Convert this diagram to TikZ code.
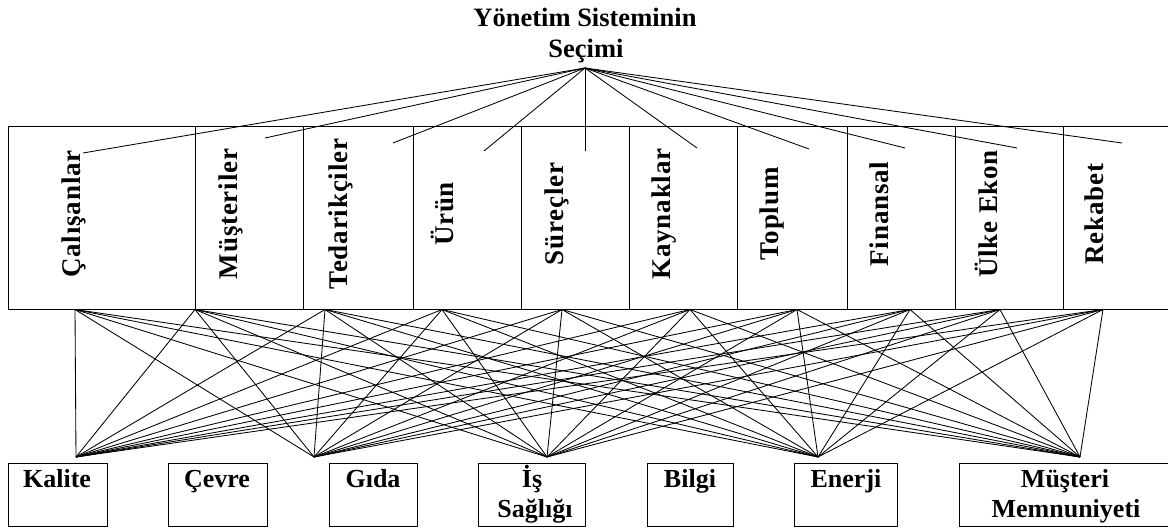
\documentclass[tikz,border=0pt]{standalone}
\usepackage{fontspec}
\setmainfont{Liberation Serif}
\newfontfamily\spacedserif[LetterSpace=3]{Liberation Serif}
\begin{document}
\begin{tikzpicture}[x=1pt,y=-1pt,
  colbox/.style={draw, line width=1.3pt, anchor=north west, minimum height=183pt, inner sep=0pt},
  botbox/.style={draw, line width=1.3pt, anchor=north west, minimum height=63pt, inner sep=0pt},
  vlabel/.style={rotate=90, anchor=base, inner sep=0pt, font=\spacedserif\fontsize{27}{30}\selectfont\bfseries},
  blabel/.style={anchor=base, inner sep=0pt, font=\fontsize{26}{30}\selectfont\bfseries},
  tlabel/.style={anchor=base, inner sep=0pt, font=\fontsize{26.5}{30}\selectfont\bfseries},
  conn/.style={line width=0.85pt}]
\useasboundingbox (0,0) rectangle (1168,529);
\clip (0,0) rectangle (1168,529);
% title
\node[tlabel] (title1) at (585,27) {Yönetim Sisteminin};
\node[tlabel] (title2) at (586,58) {Seçimi};
\coordinate (apex) at (585,68);
% top columns
\foreach \n/\l/\r/\bx/\txt in {c1/8/195/80/Çalışanlar, c2/195/303/237/Müşteriler, c3/303/413/347/Tedarikçiler, c4/413/521/453/Ürün, c5/521/629/563/Süreçler, c6/629/737/670/Kaynaklar, c7/737/847/778/Toplum, c8/847/955/888/Finansal, c9/955/1063/997/Ülke Ekon, c10/1063/1175/1103/Rekabet}{
  \node[colbox, minimum width={(\r-\l)*1pt}] (\n) at (\l,126) {};
  \node[vlabel] (\n t) at (\bx,214) {\txt};
}
% apex line end points
\foreach \n/\x/\y in {e1/83/153, e2/265/138, e3/393/143, e4/484/151, e5/585/151, e6/697/148, e7/809/149, e8/905/148, e9/1017/148, e10/1122/143}{
  \coordinate (\n) at (\x,\y);
}
\foreach \n in {e1,e2,e3,e4,e5,e6,e7,e8,e9,e10}{
  \draw[conn] (apex) -- (\n);
}
% top hubs
\foreach \n/\x in {t1/75, t2/195, t3/325, t4/442, t5/562, t6/690, t7/797, t8/910, t9/1000, t10/1103}{
  \coordinate (\n) at (\x,309.5);
}
% bottom hubs
\foreach \n/\x in {h1/76, h2/314, h3/547, h4/818, h5/1080}{
  \coordinate (\n) at (\x,457);
}
\foreach \t in {t1,t2,t3,t4,t5,t6,t7,t8,t9,t10}{
  \foreach \h in {h1,h2,h3,h4,h5}{
    \draw[conn] (\t) -- (\h);
  }
}
% bottom boxes
\foreach \n/\l/\r in {b1/8/107, b2/168/267, b3/329/417, b4/478/585, b5/647/733, b6/794/897, b7/959/1175}{
  \node[botbox, minimum width={(\r-\l)*1pt}] (\n) at (\l,463) {};
}
\node[blabel] (b1t) at (57,487) {Kalite};
\node[blabel] (b2t) at (217,487) {Çevre};
\node[blabel] (b3t) at (373,487) {Gıda};
\node[blabel] (b4t) at (532,487) {İş};
\node[blabel] (b4u) at (535,517) {Sağlığı};
\node[blabel] (b5t) at (690,487) {Bilgi};
\node[blabel] (b6t) at (846,487) {Enerji};
\node[blabel] (b7t) at (1065,487) {Müşteri};
\node[blabel] (b7u) at (1066,517) {Memnuniyeti};
\end{tikzpicture}
\end{document}
